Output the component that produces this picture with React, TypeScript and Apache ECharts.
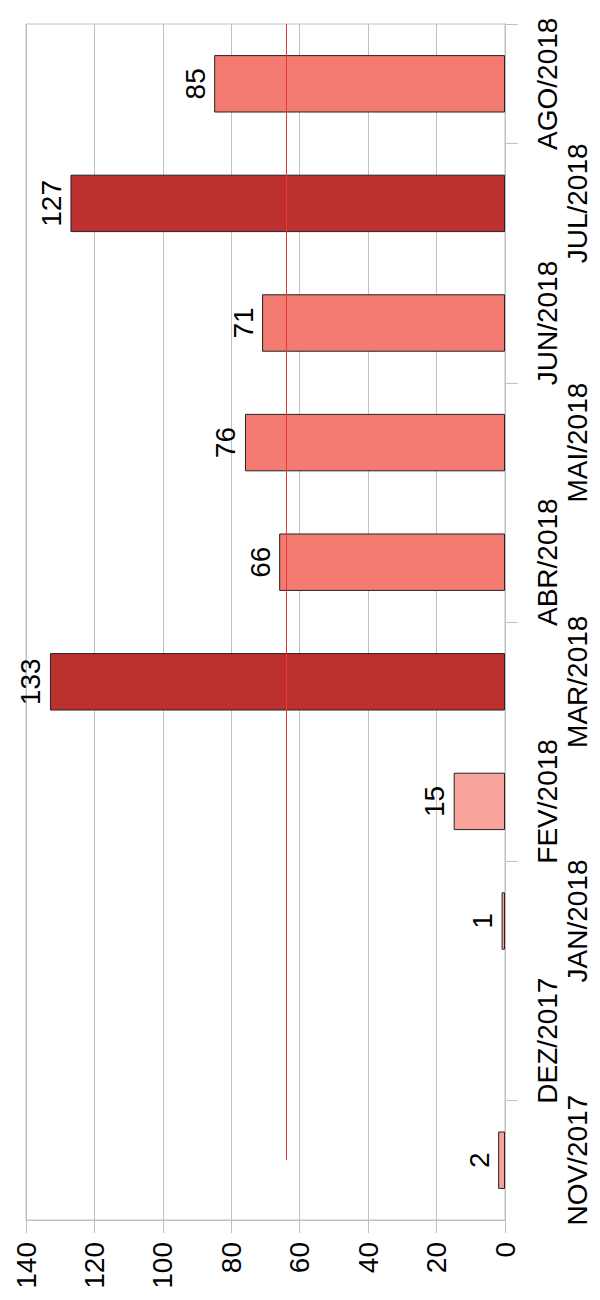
import React, { useEffect, useRef } from "react";
import * as echarts from "echarts";

const categories = [
  "NOV/2017", "DEZ/2017", "JAN/2018", "FEV/2018", "MAR/2018",
  "ABR/2018", "MAI/2018", "JUN/2018", "JUL/2018", "AGO/2018",
];
const values: (number | null)[] = [2, null, 1, 15, 133, 66, 76, 71, 127, 85];
const valueTicks = { min: 0, max: 140, interval: 20 };

const FONT = "'Liberation Sans', Arial, sans-serif";

function colorFor(v: number) {
  if (v >= 100) return "#bd3030";
  if (v >= 50) return "#f47b72";
  return "#f7a29b";
}

export default function App() {
  const ref = useRef<HTMLDivElement>(null);
  useEffect(() => {
    if (!ref.current) return;
    const chart = echarts.init(ref.current, null, { renderer: "svg" });
    const present = values.filter((v) => v != null) as number[];
    const avg = present.reduce((a, b) => a + b, 0) / present.length;
    const gridTop = 24;
    chart.setOption({
      animation: false,
      backgroundColor: "#ffffff",
      grid: {
        left: 26, right: 95, top: gridTop, bottom: 80,
        show: true, borderColor: "#c0c0c0", borderWidth: 1,
      },
      xAxis: {
        type: "value",
        inverse: true,
        position: "bottom",
        min: valueTicks.min, max: valueTicks.max, interval: valueTicks.interval,
        axisLine: { show: true, lineStyle: { color: "#c0c0c0" } },
        axisTick: { show: true, length: 13, lineStyle: { color: "#c0c0c0" } },
        splitLine: { show: true, lineStyle: { color: "#c0c0c0" } },
        axisLabel: { rotate: 90, margin: 22, fontSize: 28, color: "#000", fontFamily: FONT },
      },
      yAxis: [
        {
          type: "category",
          data: categories,
          position: "right",
          axisLine: { show: true, onZero: false, lineStyle: { color: "#c0c0c0" } },
          axisTick: { show: true, length: 13, lineStyle: { color: "#c0c0c0" } },
          splitLine: { show: false },
          axisLabel: {
            rotate: 90, margin: 28, fontSize: 28, color: "#000", fontFamily: FONT,
            interval: (i: number) => i % 2 === 1,
          },
        },
        {
          type: "category",
          data: categories,
          position: "right",
          axisLine: { show: false },
          axisTick: { show: false },
          splitLine: { show: false },
          axisLabel: {
            rotate: 90, margin: 58, fontSize: 28, color: "#000", fontFamily: FONT,
            interval: (i: number) => i % 2 === 0,
          },
        },
      ],
      series: [
        {
          type: "bar",
          yAxisIndex: 0,
          barWidth: "48%",
          data: values.map((v) =>
            v == null
              ? "-"
              : { value: v, itemStyle: { color: colorFor(v), borderColor: "#222", borderWidth: 1 } }
          ),
          label: {
            show: true,
            position: "left",
            distance: 5,
            rotate: 90,
            align: "center",
            verticalAlign: "bottom",
            fontSize: 28,
            color: "#000",
            fontFamily: FONT,
          },
          markLine: {
            silent: true,
            symbol: "none",
            label: { show: false },
            lineStyle: { color: "#e53935", width: 1, type: "solid" },
            data: [[
              { coord: [avg, categories[0]] },
              { coord: [avg, categories[categories.length - 1]], y: gridTop },
            ]],
          },
        },
      ],
    });
    return () => chart.dispose();
  }, []);
  return (
    <div
      ref={ref}
      style={{ position: "absolute", left: 0, top: 0, width: 600, height: 1300 }}
    />
  );
}
